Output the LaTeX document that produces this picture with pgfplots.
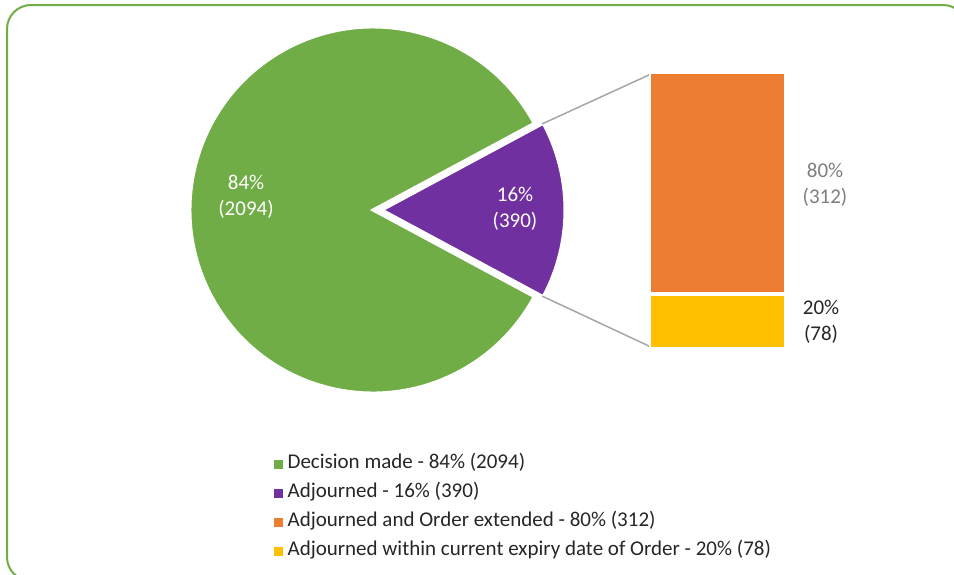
\documentclass[border=0pt]{standalone}
\usepackage{pgfplots}
\pgfplotsset{compat=1.18}
\usepackage{fontspec}
\setmainfont{Carlito}

\definecolor{cgreen}{HTML}{70AD47}
\definecolor{cpurple}{HTML}{7030A0}
\definecolor{corange}{HTML}{ED7D31}
\definecolor{cyellow}{HTML}{FFC000}
\definecolor{ctext}{HTML}{262626}
\definecolor{cgraytext}{HTML}{7F7F7F}
\definecolor{cline}{HTML}{A6A6A6}

% data
\newcommand\decided{2094}
\newcommand\adjourned{390}
\newcommand\extended{312}
\newcommand\within{78}

\newcommand\lab{\fontsize{21bp}{25.5bp}\selectfont}

\begin{document}
\begin{tikzpicture}
\pgfmathsetmacro{\half}{180*(\adjourned/(\decided+\adjourned))}
\begin{axis}[
    at={(0bp,575bp)}, anchor=origin,
    scale only axis, width=954bp, height=575bp,
    xmin=0, xmax=954, ymin=0, ymax=575, y dir=reverse,
    hide axis,
    legend style={at={(0.2872,0.2104)}, anchor=north west,
        draw=none, fill=none, inner sep=0pt, row sep=10bp,
        font=\fontsize{21bp}{25bp}\selectfont, text=ctext,
        nodes={inner sep=0pt, text height=14bp, text depth=5bp},
        /tikz/every odd column/.append style={column sep=5bp}},
    legend cell align=left,
]
% frame
\draw[cgreen, line width=2bp, rounded corners=24bp] (axis cs:7,5) rectangle (axis cs:967,581);
% pie
\fill[cgreen, draw=white, line width=3bp] (axis cs:373,210) -- ++(\half:183bp)
    arc[start angle=\half, end angle=360-\half, radius=183bp] -- cycle;
\fill[cpurple, draw=white, line width=3bp] (axis cs:382,210) -- ++(-\half:183bp)
    arc[start angle=-\half, end angle=\half, radius=183bp] -- cycle;
% connectors
\draw[cline, line width=1.5bp] (axis cs:382,210) ++(\half:182bp) -- (axis cs:651,74);
\draw[cline, line width=1.5bp] (axis cs:382,210) ++(-\half:182bp) -- (axis cs:651,347);
% labels
\node[white, align=center, font=\lab] at (axis cs:246,197) {84\%\\(2094)};
\node[white, align=center, font=\lab] at (axis cs:515,209) {16\%\\(390)};
\node[cgraytext, align=center, font=\lab] at (axis cs:825,185) {80\%\\(312)};
\node[ctext, align=center, font=\lab] at (axis cs:821,322) {20\%\\(78)};
% legend
\addlegendimage{legend image code/.code={\fill[cgreen] (0bp,-4bp) rectangle (8bp,4bp);}}
\addlegendentry{Decision made - 84\% (2094)}
\addlegendimage{legend image code/.code={\fill[cpurple] (0bp,-4bp) rectangle (8bp,4bp);}}
\addlegendentry{Adjourned - 16\% (390)}
\addlegendimage{legend image code/.code={\fill[corange] (0bp,-4bp) rectangle (8bp,4bp);}}
\addlegendentry{Adjourned and Order extended - 80\% (312)}
\addlegendimage{legend image code/.code={\fill[cyellow] (0bp,-4bp) rectangle (8bp,4bp);}}
\addlegendentry{Adjourned within current expiry date of Order - 20\% (78)}
\end{axis}
\begin{axis}[
    at={(717.5bp,226bp)}, anchor=origin,
    scale only axis, width=137bp, height=277bp,
    xmin=-0.5, xmax=0.5, ymin=0, ymax=390,
    ybar stacked, bar width=137bp, hide axis,
]
\addplot[fill=cyellow, draw=white, line width=4bp] coordinates {(0,\within)};
\addplot[fill=corange, draw=white, line width=4bp] coordinates {(0,\extended)};
\end{axis}
\pgfresetboundingbox
\useasboundingbox (0,0) rectangle (954bp,575bp);
\end{tikzpicture}
\end{document}
